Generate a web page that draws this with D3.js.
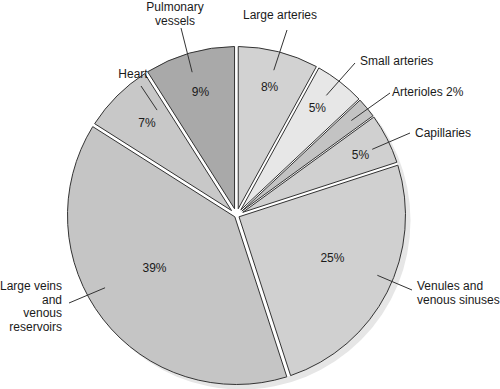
<!DOCTYPE html>
<html>
<head>
<meta charset="utf-8">
<script src="https://cdn.jsdelivr.net/npm/d3@7"></script>
<style>
  html, body { margin: 0; padding: 0; background: #fff; }
  svg { display: block; }
  text { font-family: "Liberation Sans", Arial, Helvetica, sans-serif; font-size: 12px; fill: #1a1a1a; }
</style>
</head>
<body>
<svg id="chart" width="500" height="389"></svg>
<script>
// ---- data ----
const categories = ["Large arteries", "Small arteries", "Arterioles", "Capillaries",
  "Venules and venous sinuses", "Large veins and venous reservoirs", "Heart", "Pulmonary vessels"];
const values = [8, 5, 2, 5, 25, 39, 7, 9];
const nameLines = [
  ["Large arteries"], ["Small arteries"], ["Arterioles 2%"], ["Capillaries"],
  ["Venules and", "venous sinuses"], ["Large veins", "and", "venous", "reservoirs"],
  ["Heart"], ["Pulmonary", "vessels"]
];
const showPct = [true, true, false, true, true, true, true, true];

// ---- style / layout ----
const fills = ["#d2d2d2", "#e7e7e7", "#c3c3c3", "#d0d0d0", "#d0d0d0", "#c5c5c5", "#c8c8c8", "#a9a9a9"];
const cx = 236.5, cy = 215.5, R = 169;
const maxVertex = 7, halfGap = 2;
const labelLayout = [
  { x: 280, y: 19, anchor: "middle", ox: 287, oy: 30, nudge: 0, innerR: 150 },
  { x: 360, y: 65, anchor: "start", ox: 355, oy: 63, nudge: -1, innerR: 150 },
  { x: 392, y: 96, anchor: "start", ox: 390, oy: 93, nudge: 0, innerR: 149 },
  { x: 415, y: 137, anchor: "start", ox: 410, oy: 133, nudge: 1, innerR: 151 },
  { x: 417, y: 290, anchor: "start", ox: 412, oy: 290, nudge: -4, innerR: 153 },
  { x: 62, y: 290, anchor: "end", ox: 69, oy: 303, nudge: 9, innerR: 150 },
  { x: 133, y: 78, anchor: "middle", ox: 141, oy: 86, nudge: 8, innerR: 132 },
  { x: 175, y: 11, anchor: "middle", ox: 181, oy: 28, nudge: -1, innerR: 150 }
];
const pctLayout = [
  { r: 133, nudge: 0 }, { r: 135, nudge: -1 }, { r: 0, nudge: 0 }, { r: 138, nudge: 1 },
  { r: 105, nudge: -3 }, { r: 97, nudge: 5.5 }, { r: 129, nudge: 1 }, { r: 129, nudge: 0 }
];
const lineHeight = 13.7;

const svg = d3.select("#chart");
const g = svg.append("g").attr("transform", `translate(${cx},${cy})`);

const pie = d3.pie().sort(null).value(d => d);
const arcs = pie(values);

function pt(rho, a) { return [rho * Math.sin(a), -rho * Math.cos(a)]; }
const rad = deg => deg * Math.PI / 180;

// shadow crescent
g.append("circle").attr("cx", 5).attr("cy", 5).attr("r", R).attr("fill", "#e6e6e6");
g.append("circle").attr("cx", 0).attr("cy", 0).attr("r", R).attr("fill", "#ffffff");

function slicePath(d) {
  const half = (d.endAngle - d.startAngle) / 2;
  const s = Math.sin(half);
  const h = Math.min(halfGap, maxVertex * s);
  const dv = h / s;
  const mid = (d.startAngle + d.endAngle) / 2;
  const v = pt(dv, mid);
  const da = Math.asin(h / R);
  const a0 = d.startAngle + da, a1 = d.endAngle - da;
  const p = d3.path();
  p.moveTo(v[0], v[1]);
  const s0 = pt(R, a0);
  p.lineTo(s0[0], s0[1]);
  p.arc(0, 0, R, a0 - Math.PI / 2, a1 - Math.PI / 2, false);
  p.closePath();
  return p.toString();
}

g.selectAll("path.slice").data(arcs).join("path")
  .attr("class", "slice")
  .attr("d", slicePath)
  .attr("fill", d => fills[d.index])
  .attr("stroke", "#333")
  .attr("stroke-width", 1)
  .attr("stroke-linejoin", "round");

// percent labels
function pctPos(d) {
  const L = pctLayout[d.index];
  return pt(L.r, (d.startAngle + d.endAngle) / 2 + rad(L.nudge));
}
g.selectAll("text.pct").data(arcs.filter(d => showPct[d.index])).join("text")
  .attr("class", "pct")
  .attr("text-anchor", "middle")
  .attr("dy", "0.35em")
  .attr("x", d => pctPos(d)[0])
  .attr("y", d => pctPos(d)[1])
  .text(d => values[d.index] + "%");

// leader lines
g.selectAll("line.leader").data(arcs).join("line")
  .attr("class", "leader")
  .each(function (d) {
    const L = labelLayout[d.index];
    const inner = pt(L.innerR, (d.startAngle + d.endAngle) / 2 + rad(L.nudge));
    d3.select(this)
      .attr("x1", L.ox - cx).attr("y1", L.oy - cy)
      .attr("x2", inner[0]).attr("y2", inner[1]);
  })
  .attr("stroke", "#333")
  .attr("stroke-width", 1);

// name labels
const names = svg.selectAll("text.name").data(categories).join("text")
  .attr("class", "name")
  .attr("text-anchor", (d, i) => labelLayout[i].anchor);
names.each(function (d, i) {
  const L = labelLayout[i];
  d3.select(this).selectAll("tspan").data(nameLines[i]).join("tspan")
    .attr("x", L.x)
    .attr("y", (t, j) => L.y + j * lineHeight)
    .text(t => t);
});
</script>
</body>
</html>
